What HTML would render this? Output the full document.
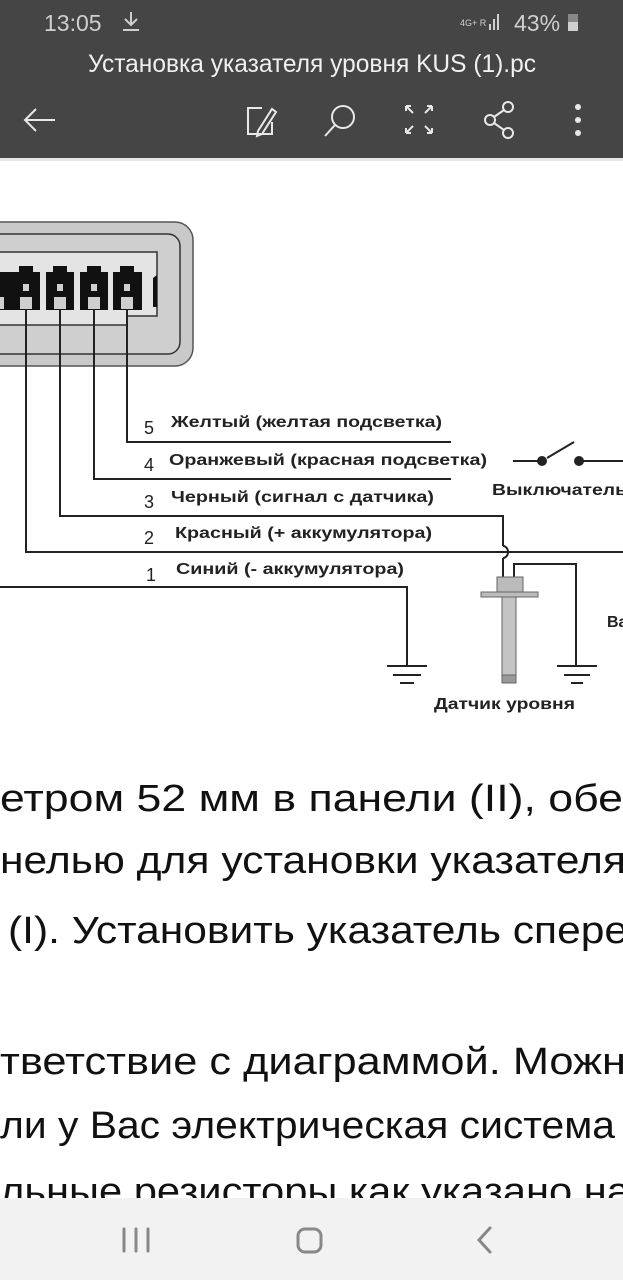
<!DOCTYPE html>
<html><head><meta charset="utf-8"><style>
html,body{margin:0;padding:0;width:623px;height:1280px;overflow:hidden;background:#fff}
svg{display:block}
</style></head><body>
<svg width="623" height="1280" viewBox="0 0 623 1280" xmlns="http://www.w3.org/2000/svg">
<rect x="0" y="0" width="623" height="158" fill="#454545"/>
<rect x="0" y="158" width="623" height="3" fill="#e6e6e6"/>
<text x="44" y="31" font-family="Liberation Sans, sans-serif" font-size="23" fill="#cfcfcf">13:05</text>
<g stroke="#cfcfcf" stroke-width="2" fill="none"><path d="M131 12v13M125 19l6 6 6-6M123 30h16"/></g>
<text x="460" y="26" font-family="Liberation Sans, sans-serif" font-size="9" fill="#cfcfcf">4G+ R</text>
<g fill="#cfcfcf"><rect x="489" y="24" width="2" height="6"/><rect x="493" y="19" width="2" height="11"/><rect x="497" y="14" width="2" height="16"/></g>
<text x="514" y="31" font-family="Liberation Sans, sans-serif" font-size="23" fill="#cfcfcf">43%</text>
<rect x="568" y="14" width="10" height="17" fill="#888"/><rect x="568" y="22" width="10" height="9" fill="#cfcfcf"/>
<text x="88" y="72" font-family="Liberation Sans, sans-serif" font-size="25" fill="#f0f0f0" textLength="448" lengthAdjust="spacingAndGlyphs">Установка указателя уровня KUS (1).pc</text>
<g stroke="#e8e8e8" stroke-width="2" fill="none">
<path d="M55 120H25M36 109L25 120L36 131"/>
<path d="M262 108h-14v26h24v-12M258 131l14-22 4 3-14 22-5 2z"/>
<circle cx="343" cy="117" r="11"/><path d="M335 125l-10 11"/>
<path d="M406 106l7 7M406 106h5M406 106v5M432 106l-7 7M432 106h-5M432 106v5M406 133l7-7M406 133h5M406 133v-5M432 133l-7-7M432 133h-5M432 133v-5"/>
<circle cx="508" cy="107" r="5"/><circle cx="490" cy="120" r="5"/><circle cx="508" cy="133" r="5"/><path d="M494 117l10-7M494 123l10 7"/>
</g>
<g fill="#e8e8e8"><circle cx="578" cy="107" r="3"/><circle cx="578" cy="120" r="3"/><circle cx="578" cy="133" r="3"/></g>

<rect x="-30" y="222" width="223" height="144" rx="18" fill="#c9c9c9" stroke="#555" stroke-width="1.5"/>
<rect x="-30" y="234" width="210" height="120" rx="12" fill="#cfcfcf" stroke="#333" stroke-width="1.5"/>
<path d="M-5 252H157V316H127V325H-5Z" fill="#e4e4e4" stroke="#333" stroke-width="1.5"/>
<g fill="#111">
<path d="M-12 272h30v38h-30z"/>
<path d="M12 272h7v-6h14v6h7v38h-28z"/>
<path d="M46 272h7v-6h14v6h7v38h-28z"/>
<path d="M80 272h7v-6h14v6h7v38h-28z"/>
<path d="M113 272h7v-6h14v6h8v38h-29z"/>
<path d="M153 278l4-3v32h-4z"/>
</g>
<g fill="#cfcfcf">
<rect x="23" y="284" width="6" height="7"/><rect x="20" y="297" width="12" height="12"/>
<rect x="57" y="284" width="6" height="7"/><rect x="54" y="297" width="12" height="12"/>
<rect x="91" y="284" width="6" height="7"/><rect x="88" y="297" width="12" height="12"/>
<rect x="124" y="284" width="6" height="7"/><rect x="121" y="297" width="12" height="12"/>
<rect x="-8" y="297" width="12" height="12"/>
</g>
<g stroke="#222" stroke-width="2" fill="none">
<path d="M127 309V442H451"/>
<path d="M94 309V479H451"/>
<path d="M60 309V516H503V546"/>
<path d="M503 558V578"/>
<path d="M503 546a5 6 0 0 1 0 12"/>
<path d="M26 309V552H623"/>
<path d="M0 587H407V666"/>
<path d="M387 666h40M393 675h28M400 683h14"/>
<path d="M514 578V564H576V666"/>
<path d="M557 666h40M564 675h26M571 683h12"/>
<path d="M513 461h29M547 458l27-16M579 461h44"/>
</g>
<circle cx="542" cy="461" r="5" fill="#222"/><circle cx="579" cy="461" r="5" fill="#222"/>
<rect x="497" y="577" width="26" height="15" fill="#bbb" stroke="#666"/>
<rect x="481" y="592" width="57" height="5" fill="#bbb" stroke="#666"/>
<rect x="502" y="597" width="14" height="86" fill="#c4c4c4" stroke="#666"/>
<rect x="502" y="675" width="14" height="8" fill="#999" stroke="#666"/>
<g font-family="Liberation Sans, sans-serif" fill="#222">
<g font-size="18"><text x="144" y="434">5</text><text x="144" y="471">4</text><text x="144" y="508">3</text><text x="144" y="544">2</text><text x="146" y="581">1</text></g>
<g font-size="16" font-weight="bold">
<text x="171" y="427" textLength="271" lengthAdjust="spacingAndGlyphs">Желтый (желтая подсветка)</text>
<text x="169" y="465" textLength="318" lengthAdjust="spacingAndGlyphs">Оранжевый (красная подсветка)</text>
<text x="171" y="502" textLength="263" lengthAdjust="spacingAndGlyphs">Черный (сигнал с датчика)</text>
<text x="175" y="538" textLength="257" lengthAdjust="spacingAndGlyphs">Красный (+ аккумулятора)</text>
<text x="176" y="574" textLength="228" lengthAdjust="spacingAndGlyphs">Синий (- аккумулятора)</text>
<text x="492" y="495" textLength="135" lengthAdjust="spacingAndGlyphs">Выключатель</text>
<text x="607" y="627">Ва</text>
<text x="434" y="709" textLength="141" lengthAdjust="spacingAndGlyphs">Датчик уровня</text>
</g>
</g>
<g font-family="Liberation Sans, sans-serif" font-size="38" fill="#111">
<text x="0" y="811" textLength="623" lengthAdjust="spacingAndGlyphs">етром 52 мм в панели  (II), обе</text>
<text x="0" y="873" textLength="626" lengthAdjust="spacingAndGlyphs">нелью для установки указателя</text>
<text x="8" y="943" textLength="620" lengthAdjust="spacingAndGlyphs">(I). Установить указатель спере</text>
<text x="0" y="1074" textLength="626" lengthAdjust="spacingAndGlyphs">тветствие с диаграммой. Можн</text>
<text x="0" y="1138" textLength="615" lengthAdjust="spacingAndGlyphs">ли у Вас электрическая система</text>
<text x="0" y="1204" textLength="630" lengthAdjust="spacingAndGlyphs">льные резисторы как указано на</text>
</g>
<rect x="0" y="1198" width="623" height="82" fill="#f2f2f2"/>
<g stroke="#888" stroke-width="3" fill="none" stroke-linecap="round">
<path d="M124 1229v22M136 1229v22M148 1229v22"/>
<rect x="298" y="1229" width="23" height="23" rx="7"/>
<path d="M490 1228l-11 12 11 12"/>
</g>
</svg>
</body></html>
